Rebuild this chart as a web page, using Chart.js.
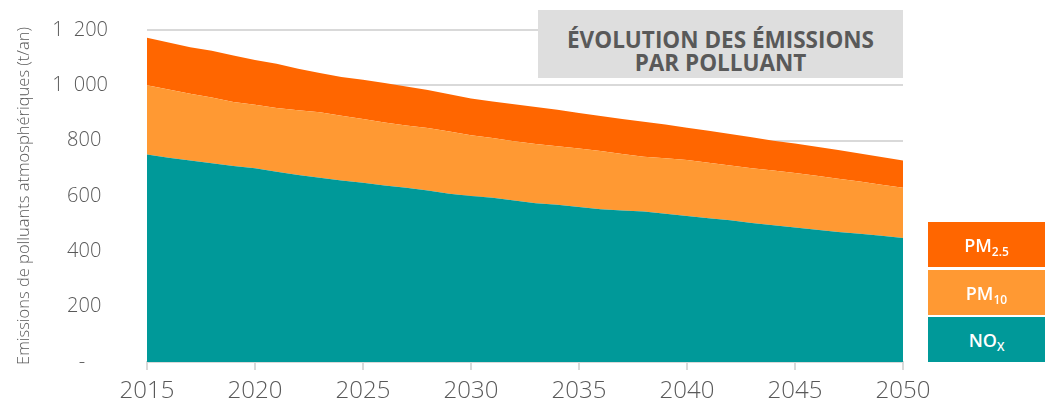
<!DOCTYPE html>
<html>
<head>
<meta charset="utf-8">
<script src="https://cdn.jsdelivr.net/npm/chart.js@4"></script>
<style>
  body{ margin:0; background:#fff; }
  #wrap{ position:relative; width:1045px; height:407px; }
  #titlebox{ position:absolute; left:538px; top:10px; width:365px; height:68px; background:#dedede;
    color:#595959; font:bold 22.5px "Open Sans", sans-serif; text-align:center; line-height:23px;
    box-sizing:border-box; padding-top:14px; display:flex; flex-direction:column; justify-content:center; }
  .leg{ position:absolute; left:928px; width:117px; height:45px; color:#fff;
    font:600 18px "Open Sans", sans-serif; display:flex; align-items:center; justify-content:center; }
  .leg span{ display:inline-block; }
  .leg sub{ font-size:12px; vertical-align:-4px; line-height:0; }
</style>
</head>
<body>
<div id="wrap">
  <canvas id="c" width="1045" height="407"></canvas>
  <div id="titlebox"><div>ÉVOLUTION DES ÉMISSIONS</div><div>PAR POLLUANT</div></div>
  <div id="legend"></div>
</div>
<script>
var years = [2015,2016,2017,2018,2019,2020,2021,2022,2023,2024,2025,2026,2027,2028,2029,2030,2031,2032,
             2033,2034,2035,2036,2037,2038,2039,2040,2041,2042,2043,2044,2045,2046,2047,2048,2049,2050];

// t/an par polluant (empilés)
var nox  = [750,738,728,718,708,700,688,676,666,656,648,638,630,620,608,600,594,584,
            574,568,560,552,548,544,536,528,520,512,502,494,486,478,470,464,456,448];
var pm10 = [250,247,242,238,232,230,230,234,237,234,230,228,225,226,225,220,216,214,
            214,212,212,211,204,198,200,202,200,198,198,198,197,195,192,188,185,182];
var pm25 = [172,170,168,169,168,162,160,150,142,140,142,142,141,137,135,132,132,134,
            134,132,128,126,126,126,122,117,116,114,112,108,107,105,104,102,100,98];

var names = ['NO', 'PM', 'PM'];
var subs  = ['X', '10', '2.5'];
var colors = ['#009999', '#ff9933', '#ff6600'];
var yTicks = [0,200,400,600,800,1000,1200];

// format "comptabilité" : milliers séparés, zéro affiché "-"
function fmt(v){
  if(v === 0) return '-\u2007\u2007';
  if(v >= 1000) return Math.floor(v/1000) + '\u2002' + String(v % 1000).padStart(3,'0');
  return v + '\u2009\u2009';
}

var series = [nox, pm10, pm25];
var datasets = series.map(function(d, i){
  return { label: names[i] + subs[i], data: d, backgroundColor: colors[i], borderWidth: 0,
           pointRadius: 0, fill: i === 0 ? 'origin' : '-1', tension: 0 };
});

new Chart(document.getElementById('c').getContext('2d'), {
  type: 'line',
  data: { labels: years, datasets: datasets },
  options: {
    responsive: false,
    animation: false,
    layout: { padding: { left: 0, right: 142, top: 30, bottom: 0 } },
    plugins: { legend: { display: false }, tooltip: { enabled: false } },
    scales: {
      x: {
        offset: false,
        afterFit: function(s){ s.height = 45; },
        border: { display: true, color: '#d9d9d9', width: 2 },
        grid: { drawOnChartArea: false, tickLength: 8, lineWidth: 2,
                color: function(c){ return (c.tick && years[c.index] % 5 === 0) ? '#d9d9d9' : 'rgba(0,0,0,0)'; } },
        ticks: { autoSkip: false, maxRotation: 0, padding: 7, color: '#595959',
                 font: { family: 'Open Sans', size: 24, weight: 300 },
                 callback: function(v, i){ return years[i] % 5 === 0 ? String(years[i]) : ''; } }
      },
      y: {
        stacked: true, min: 0, max: 1200,
        afterFit: function(s){ s.width = 147; },
        afterBuildTicks: function(s){ s.ticks = yTicks.map(function(v){ return { value: v }; }); },
        border: { display: false },
        grid: { color: '#d9d9d9', lineWidth: 2, drawTicks: true, tickLength: 39, tickColor: 'rgba(0,0,0,0)' },
        ticks: { padding: 0, color: '#595959', font: { family: 'Open Sans', size: 20, weight: 300 },
                 callback: function(v){ return fmt(v); } },
        title: { display: true, text: 'Emissions de polluants atmosphériques (t/an)', color: '#595959',
                 font: { family: 'Open Sans', size: 16.5, weight: 300 }, padding: { top: 14, bottom: 0 } }
      }
    }
  }
});

// légende en blocs, du haut vers le bas : PM2.5, PM10, NOx
var leg = document.getElementById('legend');
var tops = [317, 270, 222];
series.forEach(function(d, i){
  var el = document.createElement('div');
  el.className = 'leg';
  el.style.top = tops[i] + 'px';
  el.style.background = colors[i];
  el.innerHTML = '<span>' + names[i] + '<sub>' + subs[i] + '</sub></span>';
  leg.appendChild(el);
});
</script>
</body>
</html>
